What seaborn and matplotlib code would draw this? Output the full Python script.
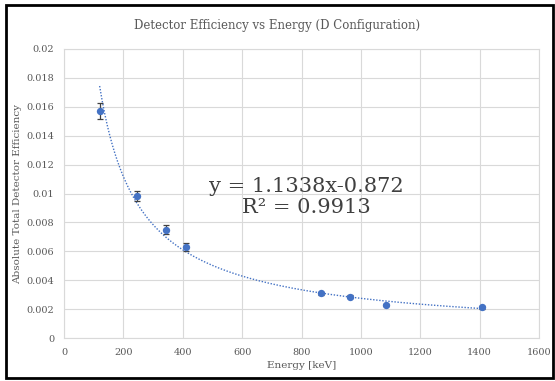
import numpy as np
import pandas as pd
import matplotlib
matplotlib.use("Agg")
import matplotlib.pyplot as plt
import seaborn as sns
from matplotlib.patches import Rectangle

# Data
energy_kev = [122, 245, 344, 411, 867, 964, 1086, 1408]
efficiency = [0.0157, 0.0098, 0.0075, 0.0063, 0.0031, 0.00285, 0.00228, 0.00214]
efficiency_err = [0.00055, 0.00035, 0.0003, 0.0003, 0.0001, 0.0001, 0.0001, 0.0001]
fit_a = 1.1338
fit_b = -0.872
fit_r2 = 0.9913
x_ticks = [0, 200, 400, 600, 800, 1000, 1200, 1400, 1600]
y_ticks = [0, 0.002, 0.004, 0.006, 0.008, 0.01, 0.012, 0.014, 0.016, 0.018, 0.02]
y_tick_labels = ["0", "0.002", "0.004", "0.006", "0.008", "0.01", "0.012", "0.014", "0.016", "0.018", "0.02"]

sns.set_theme(style="white")
plt.rcParams['font.family'] = ['DejaVu Serif', 'DejaVu Sans']

text_col = "#595959"
blue = "#4472C4"
grid_col = "#d9d9d9"

fig = plt.figure(figsize=(5.55, 3.81), dpi=100)
fig.patch.set_facecolor("white")
ax = fig.add_axes([64/555, 1-338/381, (539-64)/555, (338-49)/381])

df = pd.DataFrame({"energy": energy_kev, "eff": efficiency, "err": efficiency_err})

# trendline (power fit as shown on the chart)
xs = np.linspace(min(energy_kev) - 2, max(energy_kev) + 2, 300)
trend = pd.DataFrame({"x": xs, "y": fit_a * xs ** fit_b})
sns.lineplot(data=trend, x="x", y="y", ax=ax, color=blue, lw=1.0,
             linestyle=(0, (1, 1.2)), zorder=2)

ax.errorbar(df["energy"], df["eff"], yerr=df["err"], fmt="none",
            ecolor="#404040", elinewidth=0.9, capsize=2.5, capthick=0.9, zorder=3)
sns.scatterplot(data=df, x="energy", y="eff", ax=ax, color=blue, s=28,
                edgecolor=blue, linewidth=0, zorder=4)

ax.set_xlim(0, 1600)
ax.set_ylim(0, 0.02)
ax.set_xticks(x_ticks)
ax.set_yticks(y_ticks)
ax.set_yticklabels(y_tick_labels)
ax.tick_params(axis="both", labelsize=7, colors=text_col, length=0, pad=7)
ax.grid(True, color=grid_col, lw=0.8)
for s in ax.spines.values():
    s.set_color(grid_col)
    s.set_linewidth(0.8)

ax.set_xlabel("Energy [keV]", fontsize=7.5, color=text_col, labelpad=3)
ax.set_ylabel("Absolute Total Detector Efficiency", fontsize=7.5, color=text_col, labelpad=3)

ax.text(0.51, 0.525, f"y = {fit_a}x{fit_b}", transform=ax.transAxes,
        fontsize=15, color="#404040", ha="center", va="center")
ax.text(0.51, 0.45, f"R² = {fit_r2}", transform=ax.transAxes,
        fontsize=15, color="#404040", ha="center", va="center")

fig.text(0.5, 1-26/381, "Detector Efficiency vs Energy (D Configuration)",
         fontsize=8.5, color=text_col, ha="center", va="center")

fig.patches.append(Rectangle((6/555, 3/381), (553-6)/555, (376-3)/381,
                             transform=fig.transFigure, fill=False,
                             edgecolor="black", lw=2))

fig.savefig("out.png", dpi=100)
